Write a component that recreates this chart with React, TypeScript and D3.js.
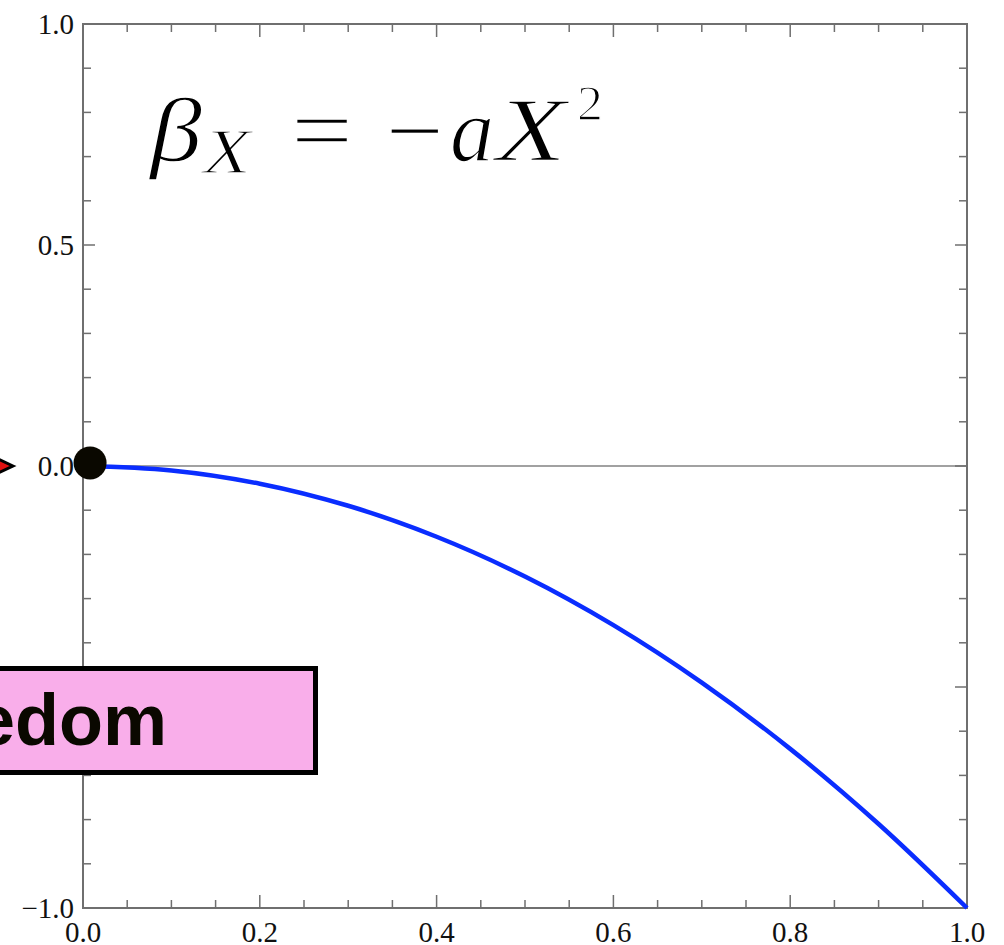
import React from "react";
import * as d3 from "d3";

// Beta function curve samples (X, beta)
const curveX = [0, 0.1, 0.2, 0.3, 0.4, 0.5, 0.6, 0.7, 0.8, 0.9, 1.0];
const curveY = [0, -0.01, -0.04, -0.09, -0.16, -0.25, -0.36, -0.49, -0.64, -0.81, -1.0];

// Fixed point marker
const fixedPoint = [0.008, 0.007];

// Axis ticks
const xMinorTicks = [0, 0.05, 0.1, 0.15, 0.2, 0.25, 0.3, 0.35, 0.4, 0.45, 0.5, 0.55, 0.6, 0.65, 0.7, 0.75, 0.8, 0.85, 0.9, 0.95, 1.0];
const xMajorTicks = [0, 0.2, 0.4, 0.6, 0.8, 1.0];
const yMinorTicks = [-1, -0.9, -0.8, -0.7, -0.6, -0.5, -0.4, -0.3, -0.2, -0.1, 0, 0.1, 0.2, 0.3, 0.4, 0.5, 0.6, 0.7, 0.8, 0.9, 1.0];
const yMajorTicks = [-1, -0.5, 0, 0.5, 1.0];
const yLabelTicks = [-1, -0.5, 0, 0.5, 1.0];

const W = 1004;
const H = 945;
const left = 83;
const right = 967;
const top = 24;
const bottom = 908;

export default function App() {
  const x = d3.scaleLinear().domain([0, 1]).range([left, right]);
  const y = d3.scaleLinear().domain([-1, 1]).range([bottom, top]);

  const pts: [number, number][] = curveX.map((v, i) => [v, curveY[i]]);
  const line = d3
    .line<[number, number]>()
    .x((d) => x(d[0]))
    .y((d) => y(d[1]))
    .curve(d3.curveCatmullRom.alpha(0.5));

  const axisColor = "#6f6f6f";
  const fmt = (v: number) => (v < 0 ? "\u2212" : "") + Math.abs(v).toFixed(1);
  const serif = "'Liberation Serif', 'Times New Roman', serif";

  return (
    <svg
      width={W}
      height={H}
      style={{ position: "absolute", left: 0, top: 0, display: "block", background: "#fff" }}
    >
      {/* zero line */}
      <line x1={left} x2={right} y1={y(0)} y2={y(0)} stroke="#444" strokeWidth={1.2} />

      {/* frame */}
      <rect x={left} y={top} width={right - left} height={bottom - top} fill="none" stroke={axisColor} strokeWidth={2} />

      {/* x ticks, bottom and top, pointing inward */}
      {xMinorTicks.map((t) => {
        const major = xMajorTicks.some((m) => Math.abs(m - t) < 1e-9);
        const len = major ? 13 : 8;
        return (
          <g key={"xt" + t}>
            <line x1={x(t)} x2={x(t)} y1={bottom} y2={bottom - len} stroke={axisColor} strokeWidth={1.5} />
            <line x1={x(t)} x2={x(t)} y1={top} y2={top + len} stroke={axisColor} strokeWidth={1.5} />
          </g>
        );
      })}
      {/* y ticks, left and right, pointing inward */}
      {yMinorTicks.map((t) => {
        const major = yMajorTicks.some((m) => Math.abs(m - t) < 1e-9);
        const len = major ? 12 : 8;
        return (
          <g key={"yt" + t}>
            <line x1={left} x2={left + len} y1={y(t)} y2={y(t)} stroke={axisColor} strokeWidth={1.5} />
            <line x1={right} x2={right - len} y1={y(t)} y2={y(t)} stroke={axisColor} strokeWidth={1.5} />
          </g>
        );
      })}

      {/* tick labels */}
      {xMajorTicks.map((t) => (
        <text key={"xl" + t} x={x(t)} y={bottom + 34} textAnchor="middle" fontFamily={serif} fontSize={29} fill="#111">
          {t.toFixed(1)}
        </text>
      ))}
      {yLabelTicks.map((t) => (
        <text key={"yl" + t} x={left - 9} y={y(t) + 10} textAnchor="end" fontFamily={serif} fontSize={29} fill="#111">
          {fmt(t)}
        </text>
      ))}

      {/* beta function */}
      <path d={line(pts) || ""} fill="none" stroke="#0a2dff" strokeWidth={4.5} />

      {/* arrow toward fixed point */}
      <line x1={-30} x2={4} y1={y(0)} y2={y(0)} stroke="#e01010" strokeWidth={3} />
      <polygon
        points={`13,${y(0)} -4,${y(0) - 8} -4,${y(0) + 8}`}
        fill="#e01010"
        stroke="#000"
        strokeWidth={3}
        strokeLinejoin="miter"
      />

      {/* fixed point */}
      <circle cx={x(fixedPoint[0])} cy={y(fixedPoint[1])} r={16.5} fill="#0a0800" />

      {/* label box */}
      <rect x={-60} y={668.5} width={375.5} height={104} fill="#f9aeea" stroke="#000" strokeWidth={5} />
      <text
        x={167}
        y={745}
        textAnchor="end"
        fontFamily="'Liberation Sans', Arial, Helvetica, sans-serif"
        fontWeight="bold"
        fontSize={72}
        fill="#0a0800"
      >
        Asymptotic freedom
      </text>

      {/* equation: thin white outline lightens the serif glyphs */}
      <g fontFamily={serif} fill="#000" stroke="#fff" strokeWidth={1.4}>
        <text x={150} y={161} fontSize={90} fontStyle="italic" textLength={52} lengthAdjust="spacingAndGlyphs">β</text>
        <text x={203} y={173} fontSize={64} fontStyle="italic" textLength={48} lengthAdjust="spacingAndGlyphs">X</text>
        <text x={291} y={161} fontSize={90} textLength={62} lengthAdjust="spacingAndGlyphs">=</text>
        <text x={386} y={161} fontSize={90} textLength={58} lengthAdjust="spacingAndGlyphs">{"\u2212"}</text>
        <text x={450} y={161} fontSize={90} fontStyle="italic" textLength={44} lengthAdjust="spacingAndGlyphs">a</text>
        <text x={496} y={161} fontSize={90} fontStyle="italic" textLength={70} lengthAdjust="spacingAndGlyphs">X</text>
        <text x={577} y={120} fontSize={50} textLength={26} lengthAdjust="spacingAndGlyphs">2</text>
      </g>
    </svg>
  );
}
